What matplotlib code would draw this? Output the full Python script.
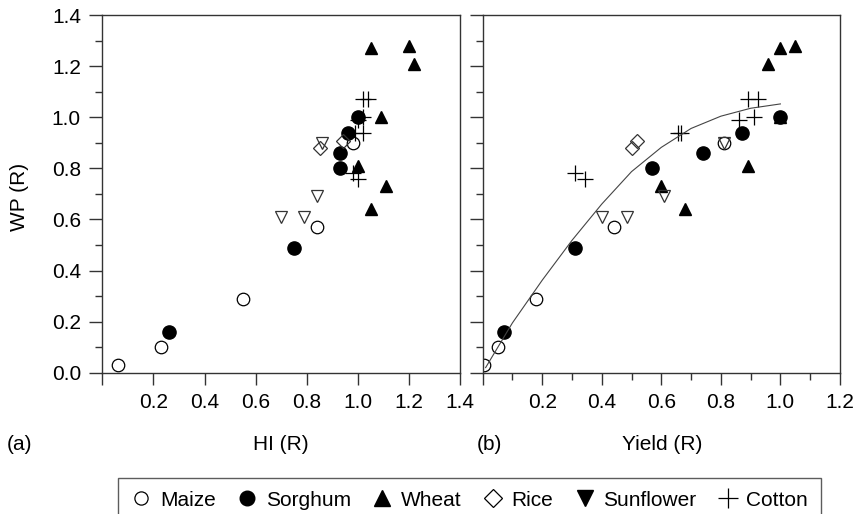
import numpy as np
import matplotlib
matplotlib.use("Agg")
import matplotlib.pyplot as plt
from matplotlib.lines import Line2D
from matplotlib.ticker import MultipleLocator, FuncFormatter

plt.rcParams['font.family'] = ['Liberation Sans', 'DejaVu Sans']

# relative harvest index, relative yield, relative water productivity
maize_hi = [0.06, 0.23, 0.55, 0.84, 0.98]
maize_yield = [0.005, 0.05, 0.18, 0.44, 0.81]
maize_wp = [0.03, 0.10, 0.29, 0.57, 0.90]

sorghum_hi = [0.26, 0.75, 0.93, 0.93, 0.96, 1.00]
sorghum_yield = [0.07, 0.31, 0.57, 0.74, 0.87, 1.00]
sorghum_wp = [0.16, 0.49, 0.80, 0.86, 0.94, 1.00]

wheat_hi = [1.05, 1.20, 1.22, 1.09, 1.00, 1.11, 1.05]
wheat_yield = [1.00, 1.05, 0.96, 1.00, 0.89, 0.60, 0.68]
wheat_wp = [1.27, 1.28, 1.21, 1.00, 0.81, 0.73, 0.64]

rice_hi = [0.85, 0.94]
rice_yield = [0.50, 0.52]
rice_wp = [0.88, 0.905]

sunflower_hi = [0.70, 0.79, 0.84, 0.86]
sunflower_yield = [0.40, 0.485, 0.61, 0.81]
sunflower_wp = [0.61, 0.61, 0.69, 0.90]

cotton_hi = [1.02, 1.04, 1.00, 1.02, 0.99, 1.02, 0.98, 1.00]
cotton_yield = [0.89, 0.925, 0.86, 0.91, 0.655, 0.665, 0.31, 0.345]
cotton_wp = [1.07, 1.07, 0.99, 1.00, 0.94, 0.94, 0.78, 0.76]

# trend line in panel (b)
curve_yield = [0.01, 0.1, 0.2, 0.3, 0.4, 0.5, 0.6, 0.7, 0.8, 0.9, 1.0]
curve_wp = [0.02, 0.195, 0.362, 0.518, 0.66, 0.787, 0.882, 0.956, 1.004, 1.035, 1.052]

crops = ["Maize", "Sorghum", "Wheat", "Rice", "Sunflower", "Cotton"]

fig = plt.figure(figsize=(8.57, 5.14), dpi=100)
ax1 = fig.add_axes([0.1194, 0.2749, 0.4174, 0.6959])
ax2 = fig.add_axes([0.5632, 0.2749, 0.4169, 0.6959])

spine_c = '#333333'
ms = 9
mew = 0.9

def draw(ax, xs):
    mx, sx, wx, rx, fx, cx = xs
    ax.plot(wx, wheat_wp, '^', ms=ms, color='black', mec='black', ls='none')
    ax.plot(sx, sorghum_wp, 'o', ms=ms + 0.5, color='black', mec='black', ls='none')
    ax.plot(mx, maize_wp, 'o', ms=ms, mfc='none', mec='black', mew=mew, ls='none')
    ax.plot(rx, rice_wp, 'D', ms=ms - 1.5, mfc='none', mec='#333333', mew=mew, ls='none')
    ax.plot(fx, sunflower_wp, 'v', ms=ms, mfc='none', mec='#333333', mew=mew, ls='none')
    ax.plot(cx, cotton_wp, '+', ms=ms + 2, color='black', mew=0.9, ls='none')

draw(ax1, (maize_hi, sorghum_hi, wheat_hi, rice_hi, sunflower_hi, cotton_hi))
draw(ax2, (maize_yield, sorghum_yield, wheat_yield, rice_yield, sunflower_yield, cotton_yield))
ax2.plot(curve_yield, curve_wp, '-', color='#444444', lw=0.8)

fmt_no0 = FuncFormatter(lambda v, p: "" if abs(v) < 1e-9 else f"{v:.1f}")

fs = 15
for ax, xmax in ((ax1, 1.4), (ax2, 1.2)):
    ax.set_xlim(0, xmax)
    ax.set_ylim(0, 1.4)
    for s in ax.spines.values():
        s.set_color(spine_c)
        s.set_linewidth(1.0)
    ax.xaxis.set_major_locator(MultipleLocator(0.2))
    ax.yaxis.set_major_locator(MultipleLocator(0.2))
    ax.yaxis.set_minor_locator(MultipleLocator(0.1))
    ax.xaxis.set_major_formatter(fmt_no0)
    ax.tick_params(which='major', direction='out', color=spine_c, width=1.0,
                   labelsize=fs, pad=6)
    ax.tick_params(axis='x', which='major', length=8.6)
    ax.tick_params(axis='y', which='major', length=9.4)
    ax.tick_params(which='minor', direction='out', color=spine_c, width=1.0, length=4.7)

ax2.xaxis.set_minor_locator(MultipleLocator(0.1))
ax1.yaxis.set_major_formatter(FuncFormatter(lambda v, p: f"{v:.1f}"))
ax2.tick_params(axis='y', labelleft=False)

fig.text(0.0233, 0.6167, "WP (R)", rotation=90, ha='center', va='center', fontsize=fs)
fig.text(281 / 857, 1 - 444 / 514, "HI (R)", ha='center', va='center', fontsize=fs)
fig.text(662 / 857, 1 - 444 / 514, "Yield (R)", ha='center', va='center', fontsize=fs)
fig.text(20 / 857, 1 - 444 / 514, "(a)", ha='center', va='center', fontsize=fs)
fig.text(489.5 / 857, 1 - 444 / 514, "(b)", ha='center', va='center', fontsize=fs)

handles = [
    Line2D([], [], marker='o', ls='none', ms=9.5, mfc='none', mec='black', mew=0.9),
    Line2D([], [], marker='o', ls='none', ms=10.5, color='black'),
    Line2D([], [], marker='^', ls='none', ms=12, color='black'),
    Line2D([], [], marker='D', ls='none', ms=9, mfc='none', mec='black', mew=0.9),
    Line2D([], [], marker='v', ls='none', ms=12, color='black'),
    Line2D([], [], marker='+', ls='none', ms=15, color='black', mew=0.9),
]
leg = fig.legend(handles, crops, loc='upper center', ncol=6,
                 bbox_to_anchor=(469.5 / 857, 1 - 478 / 514),
                 fontsize=fs, frameon=True, fancybox=False, handlelength=1.0,
                 handletextpad=0.4, columnspacing=1.0, borderpad=0.6,
                 borderaxespad=0)
leg.get_frame().set_edgecolor(spine_c)
leg.get_frame().set_linewidth(1.0)

fig.savefig("out.png", dpi=100)
